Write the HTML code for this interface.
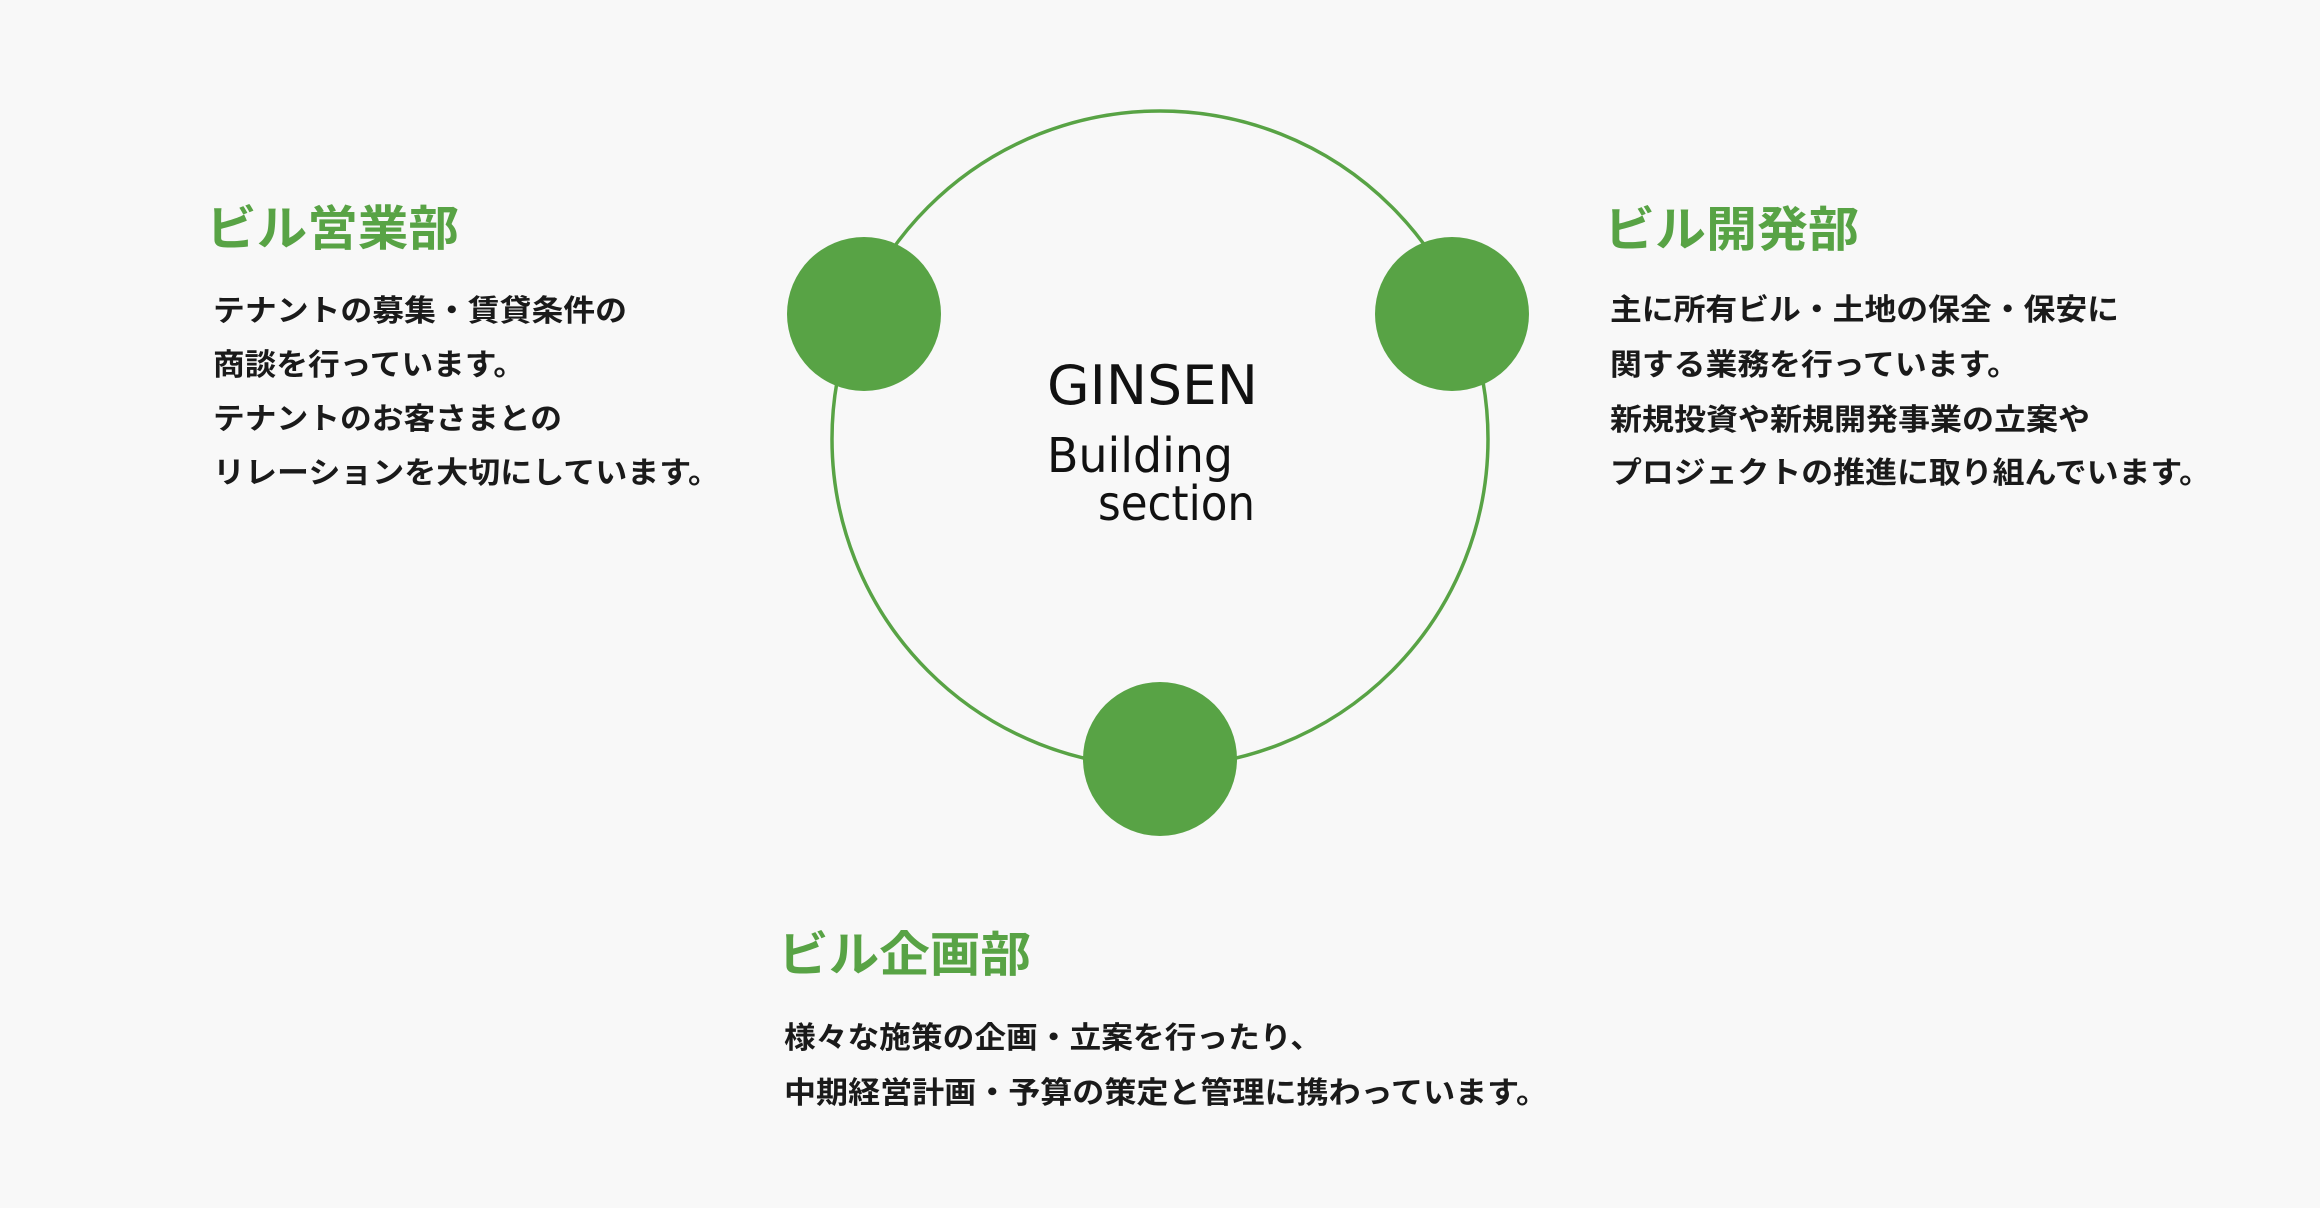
<!DOCTYPE html>
<html><head><meta charset="utf-8"><style>
html,body{margin:0;padding:0;background:#f8f8f8;}
svg{display:block}
.t{font-family:"Liberation Sans","Noto Sans CJK JP",sans-serif;font-weight:700;font-size:48px;fill:#58a345}
.b{font-family:"Liberation Sans","Noto Sans CJK JP",sans-serif;font-weight:700;font-size:30px;fill:#1a1a1a}
.g{font-family:"DejaVu Sans","Liberation Sans",sans-serif;fill:#111}
</style></head><body>
<svg width="2320" height="1208" viewBox="0 0 2320 1208" xmlns="http://www.w3.org/2000/svg">
<rect width="2320" height="1208" fill="#f8f8f8"/>
<circle cx="1160" cy="439" r="328" fill="none" stroke="#58a345" stroke-width="3.5"/>
<circle cx="864" cy="314" r="77" fill="#58a345"/>
<circle cx="1452" cy="314" r="77" fill="#58a345"/>
<circle cx="1160" cy="759" r="77" fill="#58a345"/>

<text class="g" x="1047" y="404" font-size="54" textLength="211" lengthAdjust="spacingAndGlyphs">GINSEN</text>
<text class="g" x="1047" y="472" font-size="48" textLength="186" lengthAdjust="spacingAndGlyphs">Building</text>
<text class="g" x="1098" y="520" font-size="48" textLength="157" lengthAdjust="spacingAndGlyphs">section</text>

<text class="t" x="206" y="245" textLength="253" lengthAdjust="spacingAndGlyphs">ビル営業部</text>
<text class="b" x="213" y="321" textLength="414" lengthAdjust="spacingAndGlyphs">テナントの募集・賃貸条件の</text>
<text class="b" x="213" y="375" textLength="312" lengthAdjust="spacingAndGlyphs">商談を行っています。</text>
<text class="b" x="213" y="429" textLength="349" lengthAdjust="spacingAndGlyphs">テナントのお客さまとの</text>
<text class="b" x="213" y="483" textLength="507" lengthAdjust="spacingAndGlyphs">リレーションを大切にしています。</text>

<text class="t" x="1604" y="246" textLength="255" lengthAdjust="spacingAndGlyphs">ビル開発部</text>
<text class="b" x="1610" y="320" textLength="509" lengthAdjust="spacingAndGlyphs">主に所有ビル・土地の保全・保安に</text>
<text class="b" x="1610" y="375" textLength="409" lengthAdjust="spacingAndGlyphs">関する業務を行っています。</text>
<text class="b" x="1610" y="430" textLength="480" lengthAdjust="spacingAndGlyphs">新規投資や新規開発事業の立案や</text>
<text class="b" x="1610" y="483" textLength="601" lengthAdjust="spacingAndGlyphs">プロジェクトの推進に取り組んでいます。</text>

<text class="t" x="778" y="971" textLength="253" lengthAdjust="spacingAndGlyphs">ビル企画部</text>
<text class="b" x="784" y="1048" textLength="538" lengthAdjust="spacingAndGlyphs">様々な施策の企画・立案を行ったり、</text>
<text class="b" x="784" y="1103" textLength="764" lengthAdjust="spacingAndGlyphs">中期経営計画・予算の策定と管理に携わっています。</text>
</svg>
</body></html>
